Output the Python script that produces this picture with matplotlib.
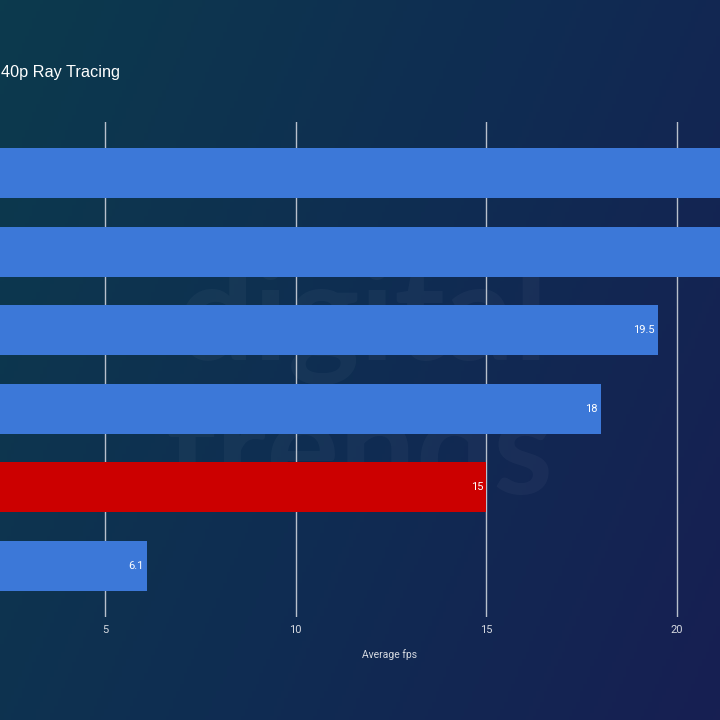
import matplotlib
matplotlib.use("Agg")
import matplotlib.pyplot as plt
import numpy as np
from matplotlib.colors import LinearSegmentedColormap

plt.rcParams['font.family'] = ['Liberation Sans', 'DejaVu Sans']

# ---- data ----
categories = ["GPU A", "GPU B", "GPU C", "GPU D", "GPU E", "GPU F"]
values = [23.0, 22.5, 19.5, 18.0, 15.0, 6.1]
bar_colors = ["#3c78d8", "#3c78d8", "#3c78d8", "#3c78d8", "#cc0000", "#3c78d8"]
xticks = [5, 10, 15, 20]
title = "40p Ray Tracing"
xlabel = "Average fps"

W, H = 720, 720
fig = plt.figure(figsize=(7.2, 7.2), dpi=100)

# background gradient
bg = fig.add_axes([0, 0, 1, 1], zorder=-10)
xx, yy = np.meshgrid(np.linspace(0, 1, 200), np.linspace(0, 1, 200))
t = np.clip(0.7 * xx + 0.3 * yy, 0, 1)  # yy: 0 top -> 1 bottom
cmap = LinearSegmentedColormap.from_list("bg", ["#0c3a4d", "#0f2d52", "#171f52"])
bg.imshow(t, cmap=cmap, aspect="auto", extent=[0, 1, 0, 1], origin="upper")
bg.set_axis_off()

# map pixels -> data
px_per_unit = (677 - 105) / 15.0
x0_px = 105 - 5 * px_per_unit
xmin = (0 - x0_px) / px_per_unit
xmax = (W - x0_px) / px_per_unit

top_px, bot_px = 122, 617
ax = fig.add_axes([0, 1 - bot_px / H, 1, (bot_px - top_px) / H])
ax.patch.set_alpha(0)

# watermark
fig.text(362 / W, 1 - 322 / H, "digital", fontsize=98, fontweight="bold",
         family=["Lato", "DejaVu Sans"],
         color="white", alpha=0.035, ha="center", va="center", zorder=-5)
fig.text(360 / W, 1 - 455 / H, "trends", fontsize=98, fontweight="bold",
         family=["Lato", "DejaVu Sans"],
         color="white", alpha=0.035, ha="center", va="center", zorder=-5)

ypos = np.arange(len(categories))
spacing = (565 - 173) / 5.0
bh = 50 / spacing
ax.barh(ypos, values, height=bh, color=bar_colors, zorder=3)
ax.set_xlim(xmin, xmax)
m = 51 / spacing
ax.set_ylim(len(categories) - 1 + m, -m)

for x in xticks:
    ax.axvline(x, color="#b8c0cc", lw=1.0, zorder=1)

for y, v in zip(ypos, values):
    if v < xmax - 0.3:
        ax.annotate(f"{v:g}", xy=(v, y), xytext=(-3, 0),
                    textcoords="offset pixels", color="white", fontsize=8,
                    family=["Roboto", "DejaVu Sans"],
                    ha="right", va="center", zorder=4)

ax.set_xticks(xticks)
ax.set_xticklabels([str(x) for x in xticks], family=["Roboto", "DejaVu Sans"])
ax.set_yticks([])
ax.tick_params(axis="x", length=0, colors="#d5d9e0", labelsize=8, pad=6)
for s in ax.spines.values():
    s.set_visible(False)

fig.text(390 / W, 1 - 655 / H, xlabel, color="#d5d9e0", fontsize=7.5,
         family=["Roboto", "DejaVu Sans"], ha="center", va="center")
fig.text(1 / W, 1 - 73 / H, title, color="white", fontsize=11.7,
         ha="left", va="center")

fig.savefig("out.png", dpi=100)
